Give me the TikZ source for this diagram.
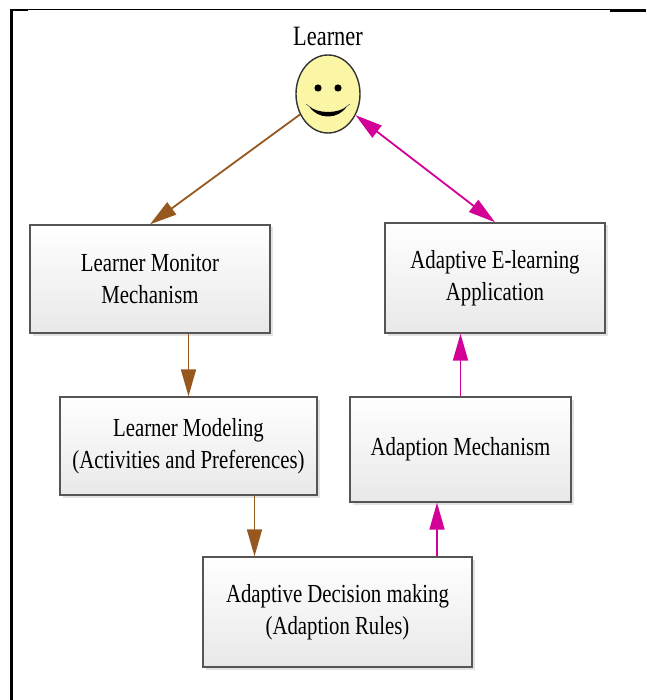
\documentclass[tikz,border=0pt]{standalone}
\usepackage{fontspec}
\setmainfont{Liberation Serif}[FakeStretch=0.8]
\usetikzlibrary{arrows.meta,shadows,shapes.geometric}
\definecolor{brownarr}{RGB}{150,88,30}
\definecolor{magarr}{RGB}{210,0,150}
\definecolor{faceyel}{RGB}{250,246,165}
\definecolor{boxedge}{RGB}{85,85,85}
\tikzset{
  blk/.style={rectangle, draw=boxedge, line width=1.4pt, top color=white, bottom color=gray!18,
    align=center, inner sep=0pt, font=\fontsize{26}{32}\selectfont,
    drop shadow={shadow xshift=2.5pt, shadow yshift=-2.5pt, fill=gray!45}},
  brn/.style={draw=brownarr, line width=1.8pt, -{Triangle[length=27pt,width=15pt]}},
  mag/.style={draw=magarr, line width=1.8pt, -{Triangle[length=27pt,width=15pt]}},
  magd/.style={draw=magarr, line width=1.8pt, {Triangle[length=27pt,width=15pt]}-{Triangle[length=27pt,width=15pt]}},
}
\begin{document}
\begin{tikzpicture}[x=1pt,y=-1pt]
\useasboundingbox (0,0) rectangle (646,700);
\fill[white] (0,0) rectangle (646,700);
% frame
\draw[line width=2.5pt] (11.5,9.5) -- (11.5,700);
\draw[line width=1pt] (11,9.5) -- (646,9.5);
\draw[line width=2.5pt] (11,10) -- (28,10);
\draw[line width=2.5pt] (610,10.5) -- (646,10.5);
% learner
\node[font=\fontsize{28}{32}\selectfont] (lbl) at (328,36) {Learner};
\node[ellipse, draw=black!80, line width=1.4pt, fill=faceyel, minimum width=64pt, minimum height=78pt, inner sep=0pt] (sm) at (328,94) {};
\fill (sm.center) ++(-10,-6) circle (3.6pt);
\fill (sm.center) ++(10,-6) circle (3.6pt);
\fill (sm.center) ++(-19,12) .. controls ++(8,14) and ++(-8,14) .. ++(38,0) .. controls ++(-8,8) and ++(8,8) .. ++(-38,0) -- cycle;
\draw[line width=0.6pt, black!60] (sm.center) ++(-22,10) -- ++(4,3);
\draw[line width=0.6pt, black!60] (sm.center) ++(22,10) -- ++(-4,3);
% boxes
\node[blk, minimum width=240pt, minimum height=108pt] (lmm) at (150,279) {Learner Monitor\\Mechanism};
\node[blk, minimum width=257pt, minimum height=98pt] (lm) at (188.5,446) {Learner Modeling\\(Activities and Preferences)};
\node[blk, minimum width=269pt, minimum height=110pt] (adm) at (337.5,612) {Adaptive Decision making\\(Adaption Rules)};
\node[blk, minimum width=220pt, minimum height=110pt] (aea) at (495,278) {Adaptive E-learning\\Application};
\node[blk, minimum width=221pt, minimum height=105pt] (am) at (460.5,449.5) {Adaption Mechanism};
% connectors
\draw[brn] (sm) -- (lmm.north);
\draw[brn] (lm.north |- lmm.south) -- (lm.north);
\draw[brn] ([xshift=66pt]lm.south) -- ([xshift=66pt]lm.south |- adm.north);
\draw[mag] ([xshift=-23.5pt]am.south |- adm.north) -- ([xshift=-23.5pt]am.south);
\draw[mag] (am.north) -- (am.north |- aea.south);
\draw[magd] (sm) -- (aea.north);
\end{tikzpicture}
\end{document}
